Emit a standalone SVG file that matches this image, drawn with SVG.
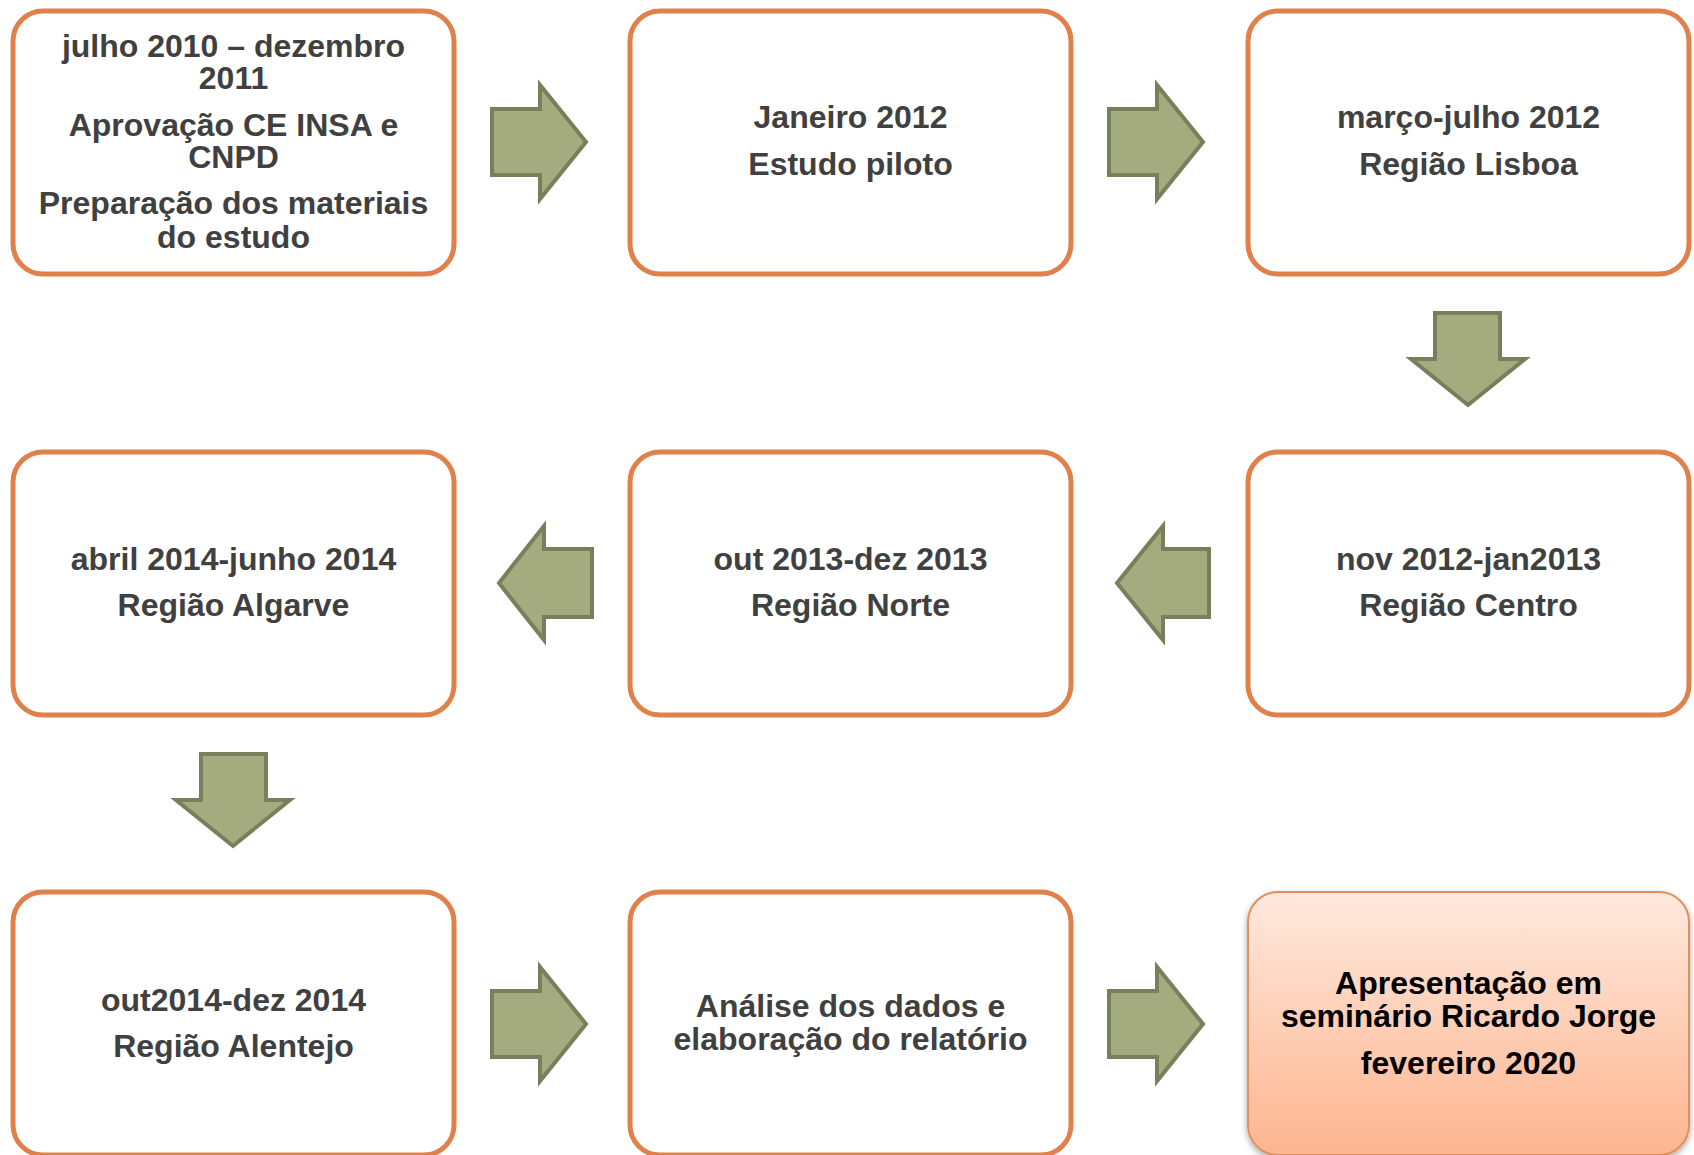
<svg xmlns="http://www.w3.org/2000/svg" width="1694" height="1155" viewBox="0 0 1694 1155">
<defs>
<linearGradient id="peach" x1="0" y1="0" x2="0" y2="1">
<stop offset="0" stop-color="#FFE9DE"/>
<stop offset="1" stop-color="#FDB58F"/>
</linearGradient>
<filter id="shadow" x="-5%" y="-5%" width="110%" height="115%">
<feDropShadow dx="0" dy="3" stdDeviation="3" flood-color="#000" flood-opacity="0.35"/>
</filter>
</defs>
<style>
.box{fill:#FFFFFF;stroke:#E0814B;stroke-width:5}
.final{fill:url(#peach);stroke:#E0905F;stroke-width:2;filter:url(#shadow)}
.t{font-family:"Liberation Sans",Arial,sans-serif;font-weight:bold;font-size:32px;fill:#404040;text-anchor:middle}
.tb{fill:#000000}
.arr{fill:#A3AB7F;stroke:#76805A;stroke-width:4;stroke-linejoin:miter}
</style>
<rect width="1694" height="1155" fill="#FFFFFF"/>

<g id="connectors">
<polygon class="arr" points="492,109 540,109 540,85 586,142 540,199 540,175 492,175"/>
<polygon class="arr" points="1109,109 1157,109 1157,85 1203,142 1157,199 1157,175 1109,175"/>
<polygon class="arr" points="1435,313 1500,313 1500,359 1525,359 1468,405 1411,359 1435,359"/>
<polygon class="arr" points="1209,549 1163,549 1163,526 1117,583 1163,640 1163,617 1209,617"/>
<polygon class="arr" points="592,549 544,549 544,526 499,583 544,640 544,617 592,617"/>
<polygon class="arr" points="201,754 266,754 266,800 290,800 233,846 176,800 201,800"/>
<polygon class="arr" points="492,991 540,991 540,967 586,1024 540,1081 540,1057 492,1057"/>
<polygon class="arr" points="1109,991 1157,991 1157,967 1203,1024 1157,1081 1157,1057 1109,1057"/>
</g>

<g id="n1">
<rect class="box" x="13" y="11" width="441" height="263" rx="30"/>
<text class="t"><tspan x="233.5" y="57">julho 2010 – dezembro</tspan><tspan x="233.5" y="89">2011</tspan></text>
<text class="t"><tspan x="233.5" y="136">Aprovação CE INSA e</tspan><tspan x="233.5" y="168">CNPD</tspan></text>
<text class="t"><tspan x="233.5" y="214">Preparação dos materiais</tspan><tspan x="233.5" y="248">do estudo</tspan></text>
</g>
<g id="n2">
<rect class="box" x="630" y="11" width="441" height="263" rx="30"/>
<text class="t" x="850.5" y="128">Janeiro 2012</text>
<text class="t" x="850.5" y="175">Estudo piloto</text>
</g>
<g id="n3">
<rect class="box" x="1248" y="11" width="441" height="263" rx="30"/>
<text class="t" x="1468.5" y="128">março-julho 2012</text>
<text class="t" x="1468.5" y="175">Região Lisboa</text>
</g>
<g id="n4">
<rect class="box" x="1248" y="452" width="441" height="263" rx="30"/>
<text class="t" x="1468.5" y="570">nov 2012-jan2013</text>
<text class="t" x="1468.5" y="616">Região Centro</text>
</g>
<g id="n5">
<rect class="box" x="630" y="452" width="441" height="263" rx="30"/>
<text class="t" x="850.5" y="570">out 2013-dez 2013</text>
<text class="t" x="850.5" y="616">Região Norte</text>
</g>
<g id="n6">
<rect class="box" x="13" y="452" width="441" height="263" rx="30"/>
<text class="t" x="233.5" y="570">abril 2014-junho 2014</text>
<text class="t" x="233.5" y="616">Região Algarve</text>
</g>
<g id="n7">
<rect class="box" x="13" y="892" width="441" height="263" rx="30"/>
<text class="t" x="233.5" y="1011">out2014-dez 2014</text>
<text class="t" x="233.5" y="1057">Região Alentejo</text>
</g>
<g id="n8">
<rect class="box" x="630" y="892" width="441" height="263" rx="30"/>
<text class="t"><tspan x="850.5" y="1017">Análise dos dados e</tspan><tspan x="850.5" y="1050">elaboração do relatório</tspan></text>
</g>
<g id="n9">
<rect class="final" x="1248" y="892" width="441" height="263" rx="30"/>
<text class="t tb"><tspan x="1468.5" y="994">Apresentação em</tspan><tspan x="1468.5" y="1027">seminário Ricardo Jorge</tspan></text>
<text class="t tb" x="1468.5" y="1074">fevereiro 2020</text>
</g>
</svg>
